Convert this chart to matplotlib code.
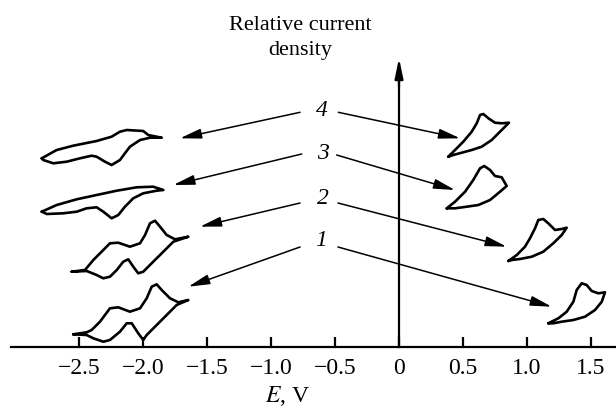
import matplotlib
matplotlib.use("Agg")
import matplotlib.pyplot as plt

plt.rcParams['font.family'] = ['Liberation Serif', 'DejaVu Serif']
plt.rcParams['mathtext.fontset'] = 'stix'

# ---- data: potential E (V) and relative current density (arb. units) ----
# left-hand (cathodic) loops
c4L_E = [-2.791, -2.674, -2.545, -2.362, -2.245, -2.180, -2.127, -1.998, -1.959, -1.854,
         -1.945, -2.023, -2.102, -2.141, -2.180, -2.245, -2.297, -2.362, -2.401, -2.492,
         -2.596, -2.701, -2.779, -2.791]
c4L_j = [18.87, 19.7, 20.13, 20.6, 21.03, 21.53, 21.7, 21.6, 21.2, 20.93,
         20.93, 20.7, 20.03, 19.37, 18.7, 18.2, 18.53, 19.03, 19.13, 18.87,
         18.53, 18.37, 18.7, 18.87]

c3L_E = [-2.791, -2.674, -2.518, -2.362, -2.205, -2.049, -1.920, -1.841,
         -1.893, -1.998, -2.076, -2.141, -2.193, -2.245, -2.310, -2.362, -2.440, -2.518,
         -2.623, -2.752, -2.791]
c3L_j = [13.53, 14.2, 14.77, 15.2, 15.63, 15.97, 16.03, 15.7,
         15.63, 15.37, 14.87, 14.03, 13.2, 12.87, 13.53, 13.97, 13.87, 13.53,
         13.37, 13.3, 13.53]

c2L_E = [-2.557, -2.453, -2.388, -2.323, -2.258, -2.193, -2.102, -2.023, -1.984, -1.945,
         -1.906, -1.867, -1.815, -1.750, -1.646,
         -1.763, -1.841, -1.920, -1.998, -2.037, -2.076, -2.115, -2.154, -2.205, -2.258,
         -2.310, -2.362, -2.440, -2.557]
c2L_j = [7.53, 7.7, 8.7, 9.53, 10.37, 10.43, 10.03, 10.37, 11.2, 12.37,
         12.63, 12.03, 11.2, 10.77, 11.03,
         10.53, 9.53, 8.53, 7.53, 7.37, 8.03, 8.77, 8.53, 7.7, 7.03,
         6.87, 7.2, 7.6, 7.53]

c1L_E = [-2.545, -2.440, -2.401, -2.336, -2.258, -2.193, -2.102, -2.023, -1.971, -1.932,
         -1.893, -1.854, -1.789, -1.724, -1.646,
         -1.737, -1.815, -1.893, -1.971, -1.998, -2.037, -2.088, -2.127, -2.180, -2.258,
         -2.310, -2.388, -2.440, -2.545]
c1L_j = [1.27, 1.47, 1.7, 2.53, 3.87, 3.97, 3.53, 3.87, 4.87, 6.03,
         6.27, 5.7, 4.87, 4.47, 4.7,
         4.2, 3.2, 2.2, 1.2, 0.7, 1.37, 2.37, 2.37, 1.53, 0.7,
         0.53, 0.87, 1.2, 1.27]

# right-hand (anodic) loops
c4R_E = [0.385, 0.4375, 0.502, 0.568, 0.607, 0.633, 0.659, 0.698, 0.75, 0.802, 0.859,
         0.802, 0.724, 0.646, 0.568, 0.490, 0.424, 0.385]
c4R_j = [19.03, 19.7, 20.53, 21.53, 22.37, 23.2, 23.3, 22.87, 22.43, 22.37, 22.43,
         21.7, 20.7, 20.03, 19.7, 19.43, 19.2, 19.03]

c3R_E = [0.373, 0.4375, 0.516, 0.580, 0.633, 0.666, 0.711, 0.75, 0.802, 0.841,
         0.789, 0.711, 0.620, 0.529, 0.4375, 0.373]
c3R_j = [13.87, 14.53, 15.53, 16.7, 17.87, 18.1, 17.7, 17.1, 16.97, 16.1,
         15.53, 14.7, 14.2, 14.03, 13.87, 13.87]

c2R_E = [0.854, 0.920, 0.984, 1.023, 1.0625, 1.088, 1.127, 1.166, 1.219, 1.271, 1.310,
         1.271, 1.205, 1.127, 1.037, 0.945, 0.880, 0.854]
c2R_j = [8.6, 9.2, 10.03, 10.87, 11.87, 12.7, 12.8, 12.37, 11.7, 11.8, 11.93,
         11.2, 10.37, 9.53, 9.03, 8.8, 8.7, 8.6]

c1R_E = [1.166, 1.245, 1.310, 1.362, 1.388, 1.427, 1.466, 1.505, 1.557, 1.609,
         1.584, 1.531, 1.453, 1.362, 1.271, 1.205, 1.166]
c1R_j = [2.37, 2.87, 3.53, 4.53, 5.7, 6.37, 6.2, 5.6, 5.37, 5.47,
         4.53, 3.7, 3.03, 2.7, 2.53, 2.37, 2.37]

# curve labels and their arrows
labels = ['4', '3', '2', '1']
label_E = [-0.604, -0.591, -0.594, -0.609]
label_j = [23.7, 19.4, 14.9, 10.7]
arrowL_start = [(-0.773, 23.47), (-0.760, 19.3), (-0.773, 14.4), (-0.773, 10.0)]
arrowL_tip = [(-1.711, 20.87), (-1.763, 16.2), (-1.555, 12.03), (-1.646, 6.03)]
arrowR_start = [(-0.474, 23.47), (-0.487, 19.2), (-0.477, 14.4), (-0.477, 10.0)]
arrowR_tip = [(0.477, 20.87), (0.4375, 15.7), (0.841, 10.03), (1.193, 4.03)]

xticks = [-2.5, -2.0, -1.5, -1.0, -0.5, 0, 0.5, 1.0, 1.5]
xticklabels = ['\u22122.5', '\u22122.0', '\u22121.5', '\u22121.0', '\u22120.5', '0', '0.5', '1.0', '1.5']

# ---- figure ----
fig = plt.figure(figsize=(6.16, 4.08), dpi=100)
ax = fig.add_axes([0, 0, 1, 1])
ax.set_xlim(-3.117, 1.695)
ax.set_ylim(-6.1, 34.7)

curves = [(c4L_E, c4L_j), (c3L_E, c3L_j), (c2L_E, c2L_j), (c1L_E, c1L_j),
          (c4R_E, c4R_j), (c3R_E, c3R_j), (c2R_E, c2R_j), (c1R_E, c1R_j)]
for E, j in curves:
    ax.plot(E, j, color='black', lw=1.9, solid_joinstyle='round', solid_capstyle='round')

# axes spines
for s in ['top', 'right']:
    ax.spines[s].set_visible(False)
ax.spines['bottom'].set_position(('data', 0))
ax.spines['bottom'].set_bounds(-3.03, 1.695)
ax.spines['bottom'].set_linewidth(1.6)
ax.spines['left'].set_position(('data', 0))
ax.spines['left'].set_bounds(0, 27.0)
ax.spines['left'].set_linewidth(1.6)
ax.annotate('', xy=(0, 28.9), xytext=(0, 26.0),
            arrowprops=dict(arrowstyle='-|>,head_length=1.2,head_width=0.25',
                            lw=1.6, color='black', shrinkA=0, shrinkB=0))

ax.set_xticks(xticks)
ax.set_xticklabels(xticklabels, fontsize=17)
ax.tick_params(axis='x', direction='in', length=7.5, width=1.6, pad=8)
ax.set_yticks([])

ax.text(-0.867, -4.9, r'$E$, V', fontsize=17, ha='center', va='center')
ax.text(-0.773, 30.9, 'Relative current\ndensity', fontsize=16, ha='center',
        va='center', linespacing=1.4)

for lab, le, lj, sL, tL, sR, tR in zip(labels, label_E, label_j, arrowL_start,
                                        arrowL_tip, arrowR_start, arrowR_tip):
    ax.text(le, lj, lab, fontsize=17, style='italic', ha='center', va='center')
    for s, t in [(sL, tL), (sR, tR)]:
        ax.annotate('', xy=t, xytext=s,
                    arrowprops=dict(arrowstyle='-|>,head_length=1.3,head_width=0.3',
                                    lw=1.1, color='black', shrinkA=0, shrinkB=0))

fig.savefig('out.png', dpi=100)
